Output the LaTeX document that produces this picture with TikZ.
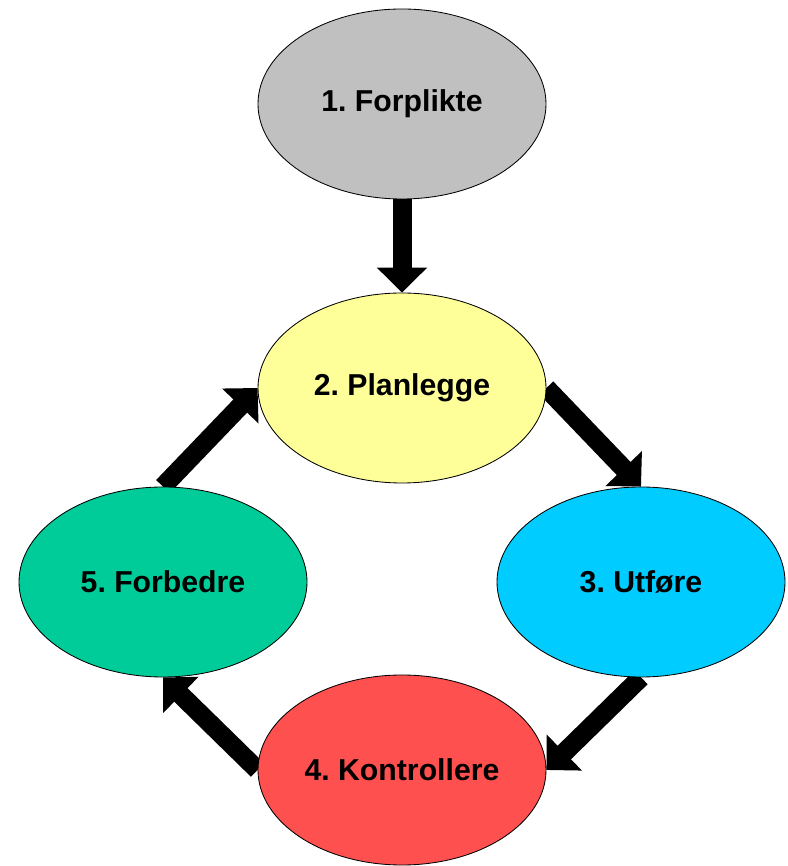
\documentclass[tikz,border=0pt]{standalone}
\usepackage{fontspec}
\setmainfont{Liberation Sans}
\frenchspacing
\usetikzlibrary{shapes.geometric,arrows.meta,backgrounds}
\definecolor{fasegraa}{HTML}{C0C0C0}
\definecolor{fasegul}{HTML}{FFFF99}
\definecolor{faseblaa}{HTML}{00CCFF}
\definecolor{faserod}{HTML}{FF5050}
\definecolor{fasegronn}{HTML}{00CC99}
\tikzset{
  phase/.style={ellipse,draw=black,line width=0.6pt,minimum width=7.2cm,minimum height=4.75cm,inner sep=0pt,
    font=\fontsize{21.5}{26}\selectfont\bfseries},
  bigarrow/.style={line width=0.475cm,-{Triangle[width=1.225cm,length=0.625cm]}}
}

\begin{document}
\begin{tikzpicture}
\useasboundingbox (0,0) rectangle (19.7,21.65);
\node[phase,fill=fasegraa] (forplikte) at (10.05,19.05) {1. Forplikte};
\node[phase,fill=fasegul] (planlegge) at (10.05,11.95) {2. Planlegge};
\node[phase,fill=faseblaa] (utfore) at (16.025,7.1) {3. Utføre};
\node[phase,fill=faserod] (kontrollere) at (10.05,2.4) {4. Kontrollere};
\node[phase,fill=fasegronn] (forbedre) at (4.075,7.1) {5. Forbedre};
\begin{pgfonlayer}{background}
\draw[bigarrow] (forplikte.south) -- (planlegge.north);
\draw[bigarrow] (planlegge.east) -- (utfore.north);
\draw[bigarrow] (utfore.south) -- (kontrollere.east);
\draw[bigarrow] (kontrollere.west) -- (forbedre.south);
\draw[bigarrow] (forbedre.north) -- (planlegge.west);
\end{pgfonlayer}
\end{tikzpicture}
\end{document}
